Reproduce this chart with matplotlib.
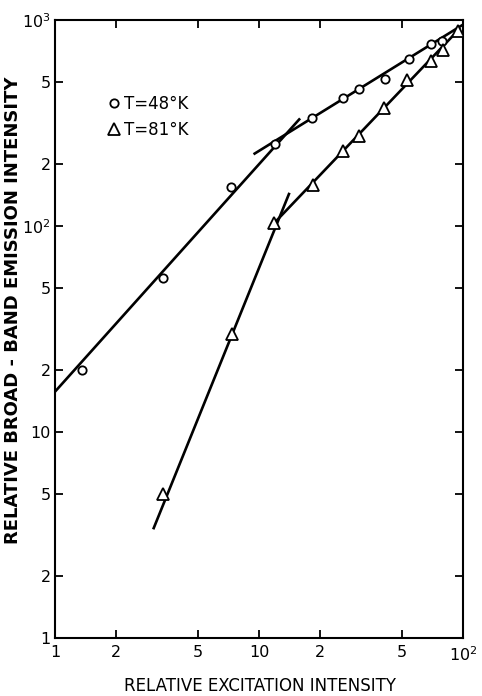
import numpy as np
import matplotlib
matplotlib.use("Agg")
import matplotlib.pyplot as plt
from matplotlib.ticker import FixedLocator, FixedFormatter, NullLocator

# data
x_48 = [1.35, 3.4, 7.3, 12.0, 18.1, 25.7, 30.9, 41.3, 54.5, 69.7, 79.2]
y_48 = [20, 56, 154, 250, 333, 420, 462, 517, 649, 762, 791]
x_81 = [3.4, 7.35, 11.8, 18.4, 25.7, 30.8, 41.1, 53, 69.7, 80, 94]
y_81 = [5.0, 29.8, 103, 158, 232, 273, 373, 512, 634, 715, 880]

# fitted straight lines (end points)
fit_48_low_x, fit_48_low_y = [1, 15.9], [15.7, 333]
fit_48_high_x, fit_48_high_y = [9.4, 100], [223, 950]
fit_81_low_x, fit_81_low_y = [3.03, 14.1], [3.37, 145]
fit_81_high_x, fit_81_high_y = [11.5, 97], [100, 915]

x_ticks = [1, 2, 5, 10, 20, 50, 100]
x_ticklabels = ["1", "2", "5", "10", "2", "5", r"$10^2$"]
y_ticks = [1, 2, 5, 10, 20, 50, 100, 200, 500, 1000]
y_ticklabels = ["1", "2", "5", "10", "2", "5", r"$10^2$", "2", "5", r"$10^3$"]

plt.rcParams['font.family'] = ['DejaVu Sans']
plt.rcParams['mathtext.fontset'] = 'dejavusans'

fig = plt.figure(figsize=(4.82, 6.96), dpi=100)
ax = fig.add_axes([0.1141, 0.0833, 0.8465, 0.8879])
ax.set_xscale('log')
ax.set_yscale('log')
ax.set_xlim(1, 100)
ax.set_ylim(1, 1000)

lw = 1.9
for fx, fy in [(fit_48_low_x, fit_48_low_y), (fit_48_high_x, fit_48_high_y),
               (fit_81_low_x, fit_81_low_y), (fit_81_high_x, fit_81_high_y)]:
    ax.plot(fx, fy, color='black', lw=lw, solid_capstyle='butt', zorder=2)

ax.plot(x_48, y_48, 'o', ms=6, mfc='white', mec='black', mew=1.3,
        linestyle='none', label='T=48°K', zorder=3)
ax.plot(x_81, y_81, '^', ms=8, mfc='white', mec='black', mew=1.3,
        linestyle='none', label='T=81°K', zorder=3)

ax.xaxis.set_major_locator(FixedLocator(x_ticks))
ax.xaxis.set_major_formatter(FixedFormatter(x_ticklabels))
ax.xaxis.set_minor_locator(NullLocator())
ax.yaxis.set_major_locator(FixedLocator(y_ticks))
ax.yaxis.set_major_formatter(FixedFormatter(y_ticklabels))
ax.yaxis.set_minor_locator(NullLocator())
ax.tick_params(which='both', direction='in', length=6, width=1.3,
               top=True, right=True, labelsize=11.5)
ax.tick_params(axis='x', pad=5)
ax.tick_params(axis='y', pad=3)

for s in ax.spines.values():
    s.set_linewidth(1.5)

# axis titles placed by hand so they stay inside the figure
fig.text(260 / 482, 1 - 686 / 696, 'RELATIVE EXCITATION INTENSITY',
         fontsize=12, ha='center', va='center')
fig.text(13 / 482, 1 - 310 / 696, 'RELATIVE BROAD - BAND EMISSION INTENSITY',
         fontsize=13, fontweight='bold', rotation=90, ha='center', va='center')

ax.legend(loc='upper left', bbox_to_anchor=(0.115, 0.89), frameon=False,
          fontsize=12, handlelength=0.6, handletextpad=0.3, labelspacing=0.5,
          borderaxespad=0)

fig.savefig('out.png', dpi=100)
